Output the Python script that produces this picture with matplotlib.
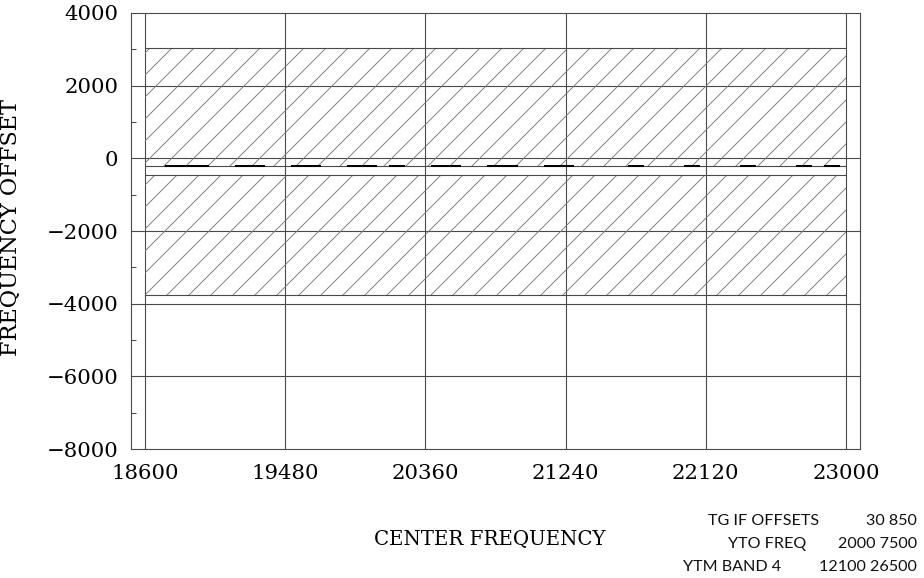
import numpy as np
import matplotlib
matplotlib.use("Agg")
import matplotlib.pyplot as plt

# ---- data ----
x_ticks = [18600, 19480, 20360, 21240, 22120, 23000]
y_ticks = [4000, 2000, 0, -2000, -4000, -6000, -8000]
y_minor = [3000, 1000, -1000, -3000, -5000, -7000]
band_x = [18600, 23000]
upper_band = (-220, 3050)      # (bottom, top)
lower_band = (-3750, -450)     # (bottom, top)
step = 88
center_freq = [18600 + step * k for k in range(51)]
present_k = [2, 3, 4, 7, 8, 11, 12, 15, 16, 18, 21, 22, 25, 26, 29, 30,
             35, 39, 43, 47, 49]
offset_level = -220
offset_vals = [offset_level if k in present_k else np.nan for k in range(51)]
x_label = "CENTER FREQUENCY"
y_label = "FREQUENCY OFFSET"
notes = [("TG IF OFFSETS", "30 850"),
         ("YTO FREQ", "2000 7500"),
         ("YTM BAND 4", "12100 26500")]

plt.rcParams['hatch.linewidth'] = 0.5
plt.rcParams['axes.unicode_minus'] = True

W, H, DPI = 924, 578, 132
fig = plt.figure(figsize=(W / DPI, H / DPI), dpi=DPI)
ax = fig.add_axes([131 / W, 1 - 449 / H, (860 - 131) / W, (449 - 13) / H])

grid_c = '#4a4a4a'
lw = 0.6
ax.set_xlim(18600 - step, 23000 + step)
ax.set_ylim(-8000, 4000)

# grid
for xv in x_ticks:
    ax.axvline(xv, color=grid_c, lw=lw, zorder=1)
for yv in y_ticks[1:-1]:
    ax.axhline(yv, color=grid_c, lw=lw, zorder=1)

# hatched bands
for b, t in (upper_band, lower_band):
    ax.fill_between(band_x, [b, b], [t, t], facecolor='none', edgecolor='#7a7a7a',
                    hatch='//', linewidth=0, zorder=2)
    ax.hlines([b, t], band_x[0], band_x[1], color=grid_c, lw=lw, zorder=3)

# offset line (dashes)
ax.step(center_freq, offset_vals, where='mid', color='black', lw=1.1, zorder=4)

for s in ax.spines.values():
    s.set_color(grid_c)
    s.set_linewidth(lw)

serif = ['DejaVu Serif']
ax.set_xticks(x_ticks)
ax.set_xticklabels([str(v) for v in x_ticks], fontsize=11.6, family=serif)
ax.set_yticks(y_ticks)
ax.set_yticklabels([str(v).replace('-', '\u2212') for v in y_ticks], fontsize=11.6, family=serif)
ax.set_yticks(y_minor, minor=True)
ax.tick_params(axis='both', which='major', length=0)
ax.tick_params(axis='x', pad=8)
ax.tick_params(axis='y', pad=7)
ax.tick_params(axis='y', which='minor', direction='in', length=2.8, width=lw, color=grid_c, left=True)

fig.text(490 / W, 1 - 540 / H, x_label, ha='center', va='center', fontsize=10.8, family=serif)
fig.text(11 / W, 1 - 227 / H, y_label, ha='center', va='center', rotation=90,
         fontsize=12.2, family=serif)

label_x = [708, 728, 683]
baselines = [525, 548, 571]
for (lab, num), lx, by in zip(notes, label_x, baselines):
    fig.text(lx / W, 1 - by / H, lab, ha='left', va='baseline', fontsize=8.8,
             family='Lato', color='#111')
    fig.text(917 / W, 1 - by / H, num, ha='right', va='baseline', fontsize=8.8,
             family='Lato', color='#111')

fig.savefig('out.png', dpi=DPI)
